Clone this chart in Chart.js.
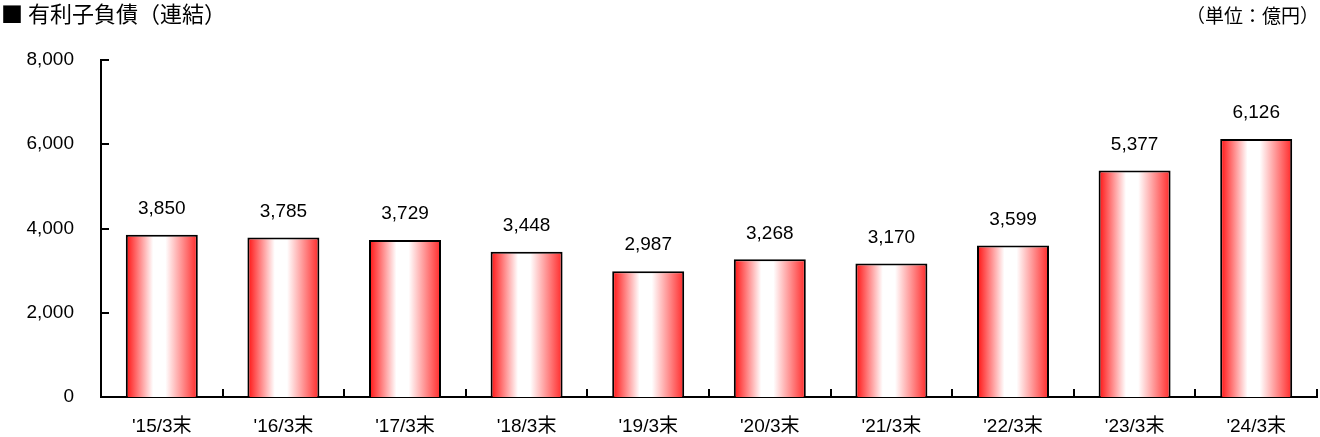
<!DOCTYPE html>
<html>
<head>
<meta charset="utf-8">
<script src="https://cdn.jsdelivr.net/npm/chart.js@4/dist/chart.umd.min.js"></script>
<style>
  html, body { margin: 0; padding: 0; background: #fff; }
  #wrap { position: relative; width: 1320px; height: 437px; }
  .txt { position: absolute; font-family: "Noto Sans CJK JP", sans-serif; color: #000; white-space: nowrap; }
  #title { left: 1px; top: -4px; font-size: 22px; }
  #unit { right: 1px; top: 1px; font-size: 19px; }
</style>
</head>
<body>
<div id="wrap">
  <canvas id="chart" width="1320" height="437"></canvas>
  <div class="txt" id="title">■ 有利子負債（連結）</div>
  <div class="txt" id="unit">（単位：億円）</div>
</div>
<script>
const FONT = '"Liberation Sans", "Noto Sans CJK JP", sans-serif';

const periods = ["'15/3末", "'16/3末", "'17/3末", "'18/3末", "'19/3末", "'20/3末", "'21/3末", "'22/3末", "'23/3末", "'24/3末"];
const debt = [3850, 3785, 3729, 3448, 2987, 3268, 3170, 3599, 5377, 6126];
const yMax = 8000;
const yStep = 2000;

const BAR_PCT = 0.592;

// red -> white -> red across each bar
function barGradient(ctx) {
  let chart = ctx.chart;
  let x = chart.scales.x;
  if (!chart.chartArea || !x || ctx.dataIndex === undefined) return '#ff3030';
  let cx = x.getPixelForValue(ctx.dataIndex);
  let w = (x.width / periods.length) * BAR_PCT;
  let g = chart.ctx.createLinearGradient(cx - w / 2, 0, cx + w / 2, 0);
  g.addColorStop(0, '#ff1010');
  g.addColorStop(0.38, '#ffffff');
  g.addColorStop(0.55, '#ffffff');
  g.addColorStop(1, '#ff2828');
  return g;
}

// inward tick marks on both axes + numbers above the bars
const overlay = {
  id: 'overlay',
  afterDatasetsDraw(chart) {
    let ctx = chart.ctx;
    let area = chart.chartArea;
    let n = periods.length;
    ctx.save();
    ctx.fillStyle = '#000';
    for (let v = 0; v <= yMax; v += yStep) {
      let py = chart.scales.y.getPixelForValue(v);
      ctx.fillRect(area.left, Math.round(py) - 1, 8, 2);
    }
    let step = (area.right - area.left) / n;
    for (let i = 1; i <= n; i++) {
      let px = area.left + step * i;
      ctx.fillRect(Math.round(px) - 1, area.bottom - 8, 2, 8);
    }

    let meta = chart.getDatasetMeta(0);
    ctx.font = '19px ' + FONT;
    ctx.textAlign = 'center';
    ctx.textBaseline = 'middle';
    meta.data.forEach((bar, i) => {
      ctx.fillText(debt[i].toLocaleString('en-US'), bar.x, bar.y - 26);
    });
    ctx.restore();
  },
};

new Chart(document.getElementById('chart'), {
  type: 'bar',
  data: {
    labels: periods,
    datasets: [{
      data: debt,
      backgroundColor: barGradient,
      borderColor: '#000',
      borderWidth: 2,
      barPercentage: BAR_PCT,
      categoryPercentage: 1,
    }],
  },
  options: {
    responsive: false,
    animation: false,
    layout: { padding: { top: 60, right: 3, left: 0, bottom: 0 } },
    plugins: { legend: { display: false }, tooltip: { enabled: false } },
    scales: {
      x: {
        grid: { display: false, drawTicks: false },
        border: { display: true, color: '#000', width: 2 },
        ticks: { color: '#000', font: { family: FONT, size: 19 }, padding: 18, maxRotation: 0 },
        afterFit(scale) { scale.height = 40; },
      },
      y: {
        min: 0,
        max: yMax,
        grid: { display: false, drawTicks: false },
        border: { display: true, color: '#000', width: 2 },
        ticks: {
          stepSize: yStep,
          color: '#000',
          padding: 27,
          font: { family: FONT, size: 19 },
          callback: v => v.toLocaleString('en-US'),
        },
        afterFit(scale) { scale.width = 101; },
      },
    },
  },
  plugins: [overlay],
});
</script>
</body>
</html>
